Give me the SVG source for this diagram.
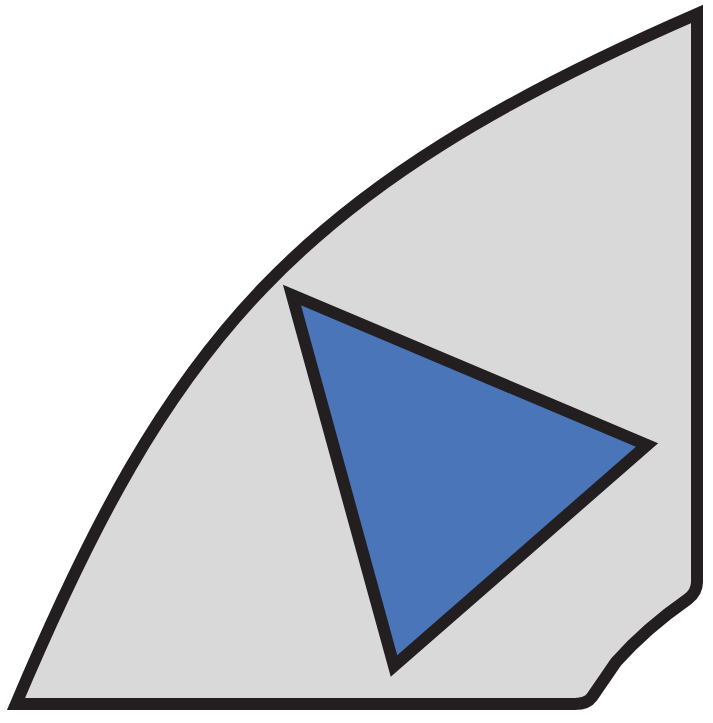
<svg xmlns="http://www.w3.org/2000/svg" width="713" height="723" viewBox="0 0 713 723">
<style>
.ol{stroke:#231f20;stroke-width:12;stroke-linejoin:miter;stroke-miterlimit:10}
</style>
<rect width="713" height="723" fill="#ffffff"/>
<g id="sector">
<path class="ol" fill="#d9d9d9" d="M697 14 L697 582 Q697 592 688 599 C665 615 640 635 616 662 L592 697 Q587 704 575 704 L16 704 C170 340 292 190 697 14 Z"/>
</g>
<g id="triangle">
<path class="ol" fill="#4a76b9" d="M292 295 L647 445 L394 666 Z"/>
</g>
</svg>
